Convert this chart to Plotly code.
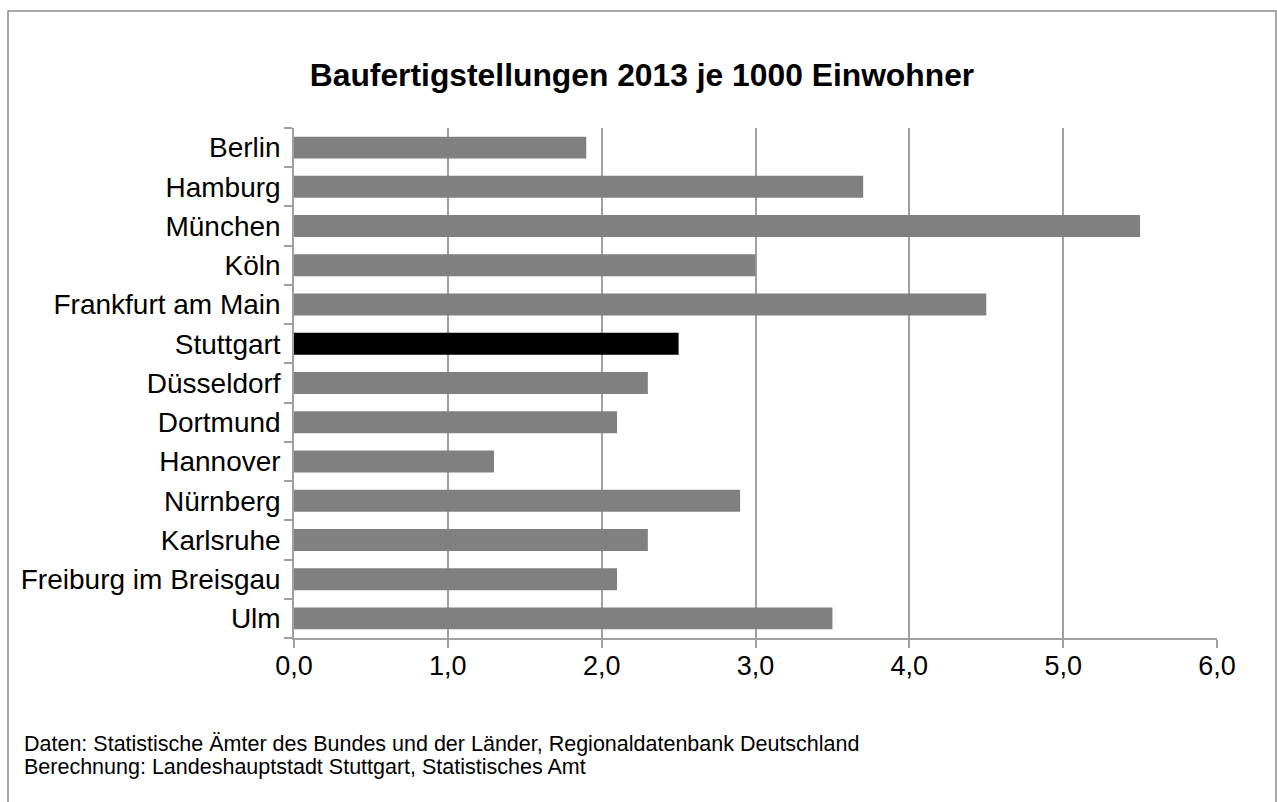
import plotly.graph_objects as go

cities = ["Berlin", "Hamburg", "München", "Köln", "Frankfurt am Main", "Stuttgart",
          "Düsseldorf", "Dortmund", "Hannover", "Nürnberg", "Karlsruhe",
          "Freiburg im Breisgau", "Ulm"]
values = [1.9, 3.7, 5.5, 3.0, 4.5, 2.5, 2.3, 2.1, 1.3, 2.9, 2.3, 2.1, 3.5]
highlight = "Stuttgart"
x_ticks = [0, 1, 2, 3, 4, 5, 6]
x_ticklabels = ["0,0", "1,0", "2,0", "3,0", "4,0", "5,0", "6,0"]
footer_lines = ["Daten: Statistische Ämter des Bundes und der Länder, Regionaldatenbank Deutschland",
                "Berechnung: Landeshauptstadt Stuttgart, Statistisches Amt"]

colors = ["#000000" if c == highlight else "#808080" for c in cities]

W, H = 1277, 802
L, R, T, B = 294, 60, 128, 164
pw, ph = W - L - R, H - T - B

fig = go.Figure(go.Bar(
    x=values, y=cities, orientation="h",
    marker=dict(color=colors, line=dict(width=0)),
    width=0.56,
))

def px(xpix):
    return (xpix - L) / pw

def py(ypix):
    return (H - B - ypix) / ph

font = "Liberation Sans, Arial, sans-serif"

annotations = []
for i, line in enumerate(footer_lines):
    annotations.append(dict(text=line, xref="paper", yref="paper",
                            x=px(22), y=py(744 + 23 * i),
                            xanchor="left", yanchor="middle", align="left", showarrow=False,
                            font=dict(size=21.5, family=font, color="black")))

fig.update_layout(
    width=W, height=H,
    margin=dict(l=L, r=R, t=T, b=B),
    paper_bgcolor="white", plot_bgcolor="white",
    showlegend=False,
    font=dict(family=font, color="black"),
    title=dict(text="<b>Baufertigstellungen 2013 je 1000 Einwohner</b>",
               x=px(642), xref="paper", xanchor="center",
               y=(H - 75) / H, yanchor="middle",
               font=dict(size=31.8, family=font, color="black")),
    xaxis=dict(range=[0, 6], tickvals=x_ticks, ticktext=x_ticklabels,
               showgrid=True, gridcolor="#a0a0a0", gridwidth=1.5,
               showline=True, linecolor="#a0a0a0", linewidth=1.5,
               ticks="outside", ticklen=8, tickcolor="#a0a0a0", tickwidth=1.5,
               tickfont=dict(size=27, family=font, color="black"),
               ticklabelstandoff=-5,
               zeroline=False, fixedrange=True),
    yaxis=dict(categoryorder="array", categoryarray=cities[::-1],
               autorange=False, range=[-0.5, len(cities) - 0.5],
               showline=True, linecolor="#a0a0a0", linewidth=1.5,
               ticks="outside", ticklen=8, tickcolor="#a0a0a0", tickwidth=1.5,
               tickson="boundaries", showgrid=False,
               tickfont=dict(size=28, family=font, color="black"),
               ticklabelstandoff=6, fixedrange=True),
    shapes=[dict(type="rect", xref="paper", yref="paper",
                 x0=px(8), x1=px(1276), y0=py(806), y1=py(11),
                 line=dict(color="#8c8c8c", width=1.5), fillcolor="rgba(0,0,0,0)",
                 layer="below")],
    annotations=annotations,
)

fig.write_html("out.html")
